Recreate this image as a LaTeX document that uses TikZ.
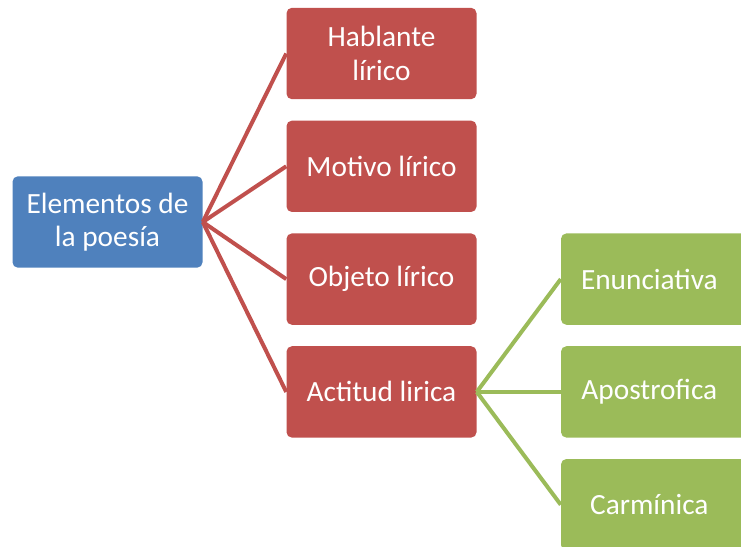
\documentclass[tikz,border=0pt]{standalone}
\usepackage{fontspec}
\setmainfont{Carlito}
\definecolor{rootblue}{HTML}{4F81BD}
\definecolor{itemred}{HTML}{C0504D}
\definecolor{subgreen}{HTML}{9BBB59}
\begin{document}
\begin{tikzpicture}[x=0.75pt,y=-0.75pt]
    \def\dy{112.8}

    \useasboundingbox (0,0) rectangle (741,546);

    \tikzstyle{box}=[rounded corners=4pt,text=white,minimum width=142.5pt,minimum height=68.5pt,align=center,font=\fontsize{22}{25}\selectfont]
    \tikzstyle{root}=[box,fill=rootblue]
    \tikzstyle{item}=[box,fill=itemred]
    \tikzstyle{sub}=[box,fill=subgreen]

    \node[root]  (elem) at (107.5,222) {Elementos de\\la poesía};

    \node[item]  (habl) at (381.5,53.5) {Hablante\\lírico};
    \node[item]  (moti) at (381.5,53.5+1*\dy) {Motivo lírico};
    \node[item]  (obje) at (381.5,53.5+2*\dy) {Objeto lírico};
    \node[item]  (acti) at (381.5,53.5+3*\dy) {Actitud lirica};

    \node[sub]  (enun) at (656,53.5+2*\dy) {\hspace*{-10pt}Enunciativa};
    \node[sub]  (apos) at (656,53.5+3*\dy) {\hspace*{-10pt}Apostrofica};
    \node[sub]  (carm) at (656,53.5+4*\dy) {\hspace*{-10pt}Carmínica};

    \tikzstyle{redline} = [draw=itemred, line width=3pt]
    \tikzstyle{greenline} = [draw=subgreen, line width=3pt]

          \draw [redline] (elem.east) -- (habl.west);
          \draw [redline] (elem.east) -- (moti.west);
          \draw [redline] (elem.east) -- (obje.west);
          \draw [redline] (elem.east) -- (acti.west);
          \draw [greenline] (acti.east) -- (enun.west);
          \draw [greenline] (acti.east) -- (apos.west);
          \draw [greenline] (acti.east) -- (carm.west);

  \end{tikzpicture}
\end{document}
